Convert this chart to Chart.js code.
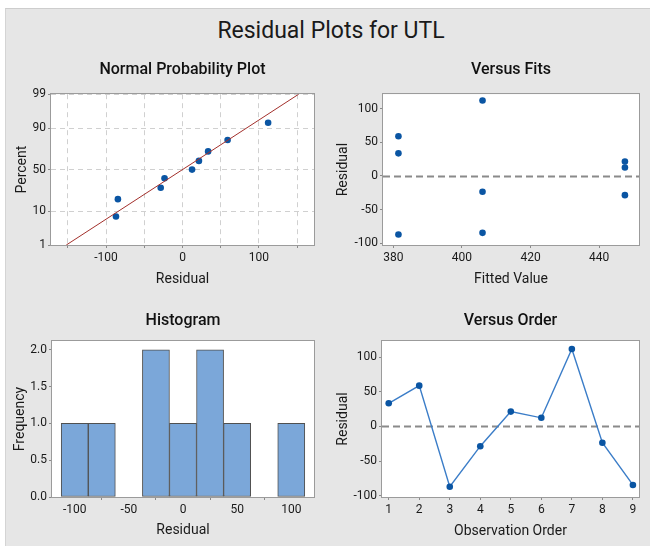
<!DOCTYPE html>
<html>
<head>
<meta charset="utf-8">
<title>Residual Plots for UTL</title>
<script src="https://cdn.jsdelivr.net/npm/chart.js@4.4.1/dist/chart.umd.min.js"></script>
<style>
  html, body { margin: 0; padding: 0; background: #fff; }
  body { width: 650px; height: 546px; position: relative; overflow: hidden;
         font-family: Roboto, 'Noto Sans', sans-serif; }
  #frame { position: absolute; left: 5px; top: 8px; right: 0; bottom: 0;
           background: #e6e6e6; border-top: 1px solid #cdcdcd; border-left: 1px solid #d4d4d4; }
  #mainTitle { position: absolute; left: 0; width: 662px; top: 18px; line-height: 26px;
               text-align: center; font-size: 23px; color: #1a1a1a; }
  .panel { position: absolute; }
</style>
</head>
<body>
<div id="frame"></div>
<div id="mainTitle">Residual Plots for UTL</div>
<div class="panel" style="left:0;top:60px;width:322px;height:230px"><canvas id="chartNpp"></canvas></div>
<div class="panel" style="left:325px;top:60px;width:322px;height:230px"><canvas id="chartFits"></canvas></div>
<div class="panel" style="left:0;top:311px;width:322px;height:231px"><canvas id="chartHist"></canvas></div>
<div class="panel" style="left:325px;top:311px;width:322px;height:231px"><canvas id="chartOrder"></canvas></div>

<script>
/* ─── Datos ─────────────────────────────────────── */
const OBS_ORDER  = [1, 2, 3, 4, 5, 6, 7, 8, 9];
const FITTED     = [381.5, 381.5, 381.5, 447.5, 447.5, 447.5, 406, 406, 406];
const RESIDUAL   = [33.5, 59, -87, -28.5, 21.5, 12.5, 112, -23.5, -84.5];
const NPP_PERCENT = [7.4, 18.1, 28.7, 39.4, 50, 60.6, 71.3, 81.9, 92.6];
const FIT_LINE_RESID   = [-152, 152];
const FIT_LINE_PERCENT = [1, 99];
const HIST_MID  = [-100, -75, -50, -25, 0, 25, 50, 75, 100];
const HIST_FREQ = [1, 1, 0, 2, 1, 2, 1, 0, 1];

/* ─── Ticks ─────────────────────────────────────── */
const NPP_X_TICKS  = [-150, -100, -50, 0, 50, 100, 150];
const NPP_X_LABELS = [-100, 0, 100];
const NPP_Y_TICKS  = [1, 10, 50, 90, 99];
const FIT_X_TICKS  = [380, 400, 420, 440];
const RESID_TICKS  = [-100, -50, 0, 50, 100];
const HIST_X_TICKS = [-100, -50, 0, 50, 100];
const HIST_Y_TICKS = [0, 0.5, 1, 1.5, 2];

const C = {
  point: '#0a55a3',
  fit: '#a3302c',
  line: '#3b7dc8',
  bar: '#7ba7d9',
  barEdge: '#505050',
  frame: '#9b9b9b',
  grid: '#d0d0d0',
  ref: '#8a8a8a',
  tick: '#8a8a8a',
};

Chart.defaults.font.family = "Roboto, 'Noto Sans', sans-serif";
Chart.defaults.font.size = 12;
Chart.defaults.color = '#1a1a1a';
Chart.defaults.animation = false;

/* normal inverse (Acklam) para la escala de probabilidad */
function probit(p) {
  const a = [-39.69683028665376, 220.9460984245205, -275.9285104469687, 138.3577518672690, -30.66479806614716, 2.506628277459239];
  const b = [-54.47609879822406, 161.5858368580409, -155.6989798598866, 66.80131188771972, -13.28068155288572];
  const c = [-0.007784894002430293, -0.3223964580411365, -2.400758277161838, -2.549732539343734, 4.374664141464968, 2.938163982698783];
  const d = [0.007784695709041462, 0.3224671290700398, 2.445134137142996, 3.754408661907416];
  const lo = 0.02425;
  let q, r;
  if (p < lo) {
    q = Math.sqrt(-2 * Math.log(p));
    return (((((c[0]*q+c[1])*q+c[2])*q+c[3])*q+c[4])*q+c[5]) / ((((d[0]*q+d[1])*q+d[2])*q+d[3])*q+1);
  }
  if (p > 1 - lo) {
    q = Math.sqrt(-2 * Math.log(1 - p));
    return -(((((c[0]*q+c[1])*q+c[2])*q+c[3])*q+c[4])*q+c[5]) / ((((d[0]*q+d[1])*q+d[2])*q+d[3])*q+1);
  }
  q = p - 0.5; r = q * q;
  return (((((a[0]*r+a[1])*r+a[2])*r+a[3])*r+a[4])*r+a[5])*q / (((((b[0]*r+b[1])*r+b[2])*r+b[3])*r+b[4])*r+1);
}
const z = pct => probit(pct / 100);

/* ─── Plugins ───────────────────────────────────── */
const plotFrame = {
  id: 'plotFrame',
  beforeDraw(chart) {
    const { ctx, chartArea: a } = chart;
    ctx.save();
    ctx.fillStyle = '#fff';
    ctx.fillRect(a.left, a.top, a.width, a.height);
    ctx.restore();
  },
  beforeDatasetsDraw(chart) {
    const { ctx, chartArea: a } = chart;
    ctx.save();
    ctx.strokeStyle = C.frame;
    ctx.lineWidth = 1;
    ctx.strokeRect(Math.round(a.left) - 0.5, Math.round(a.top) - 0.5,
                   Math.round(a.width) + 1, Math.round(a.height) + 1);
    ctx.restore();
  },
};
Chart.register(plotFrame);

const zeroLine = {
  id: 'zeroLine',
  beforeDatasetsDraw(chart) {
    const { ctx, chartArea: a, scales } = chart;
    const y = Math.round(scales.y.getPixelForValue(0)) + 0.5;
    ctx.save();
    ctx.strokeStyle = C.ref;
    ctx.lineWidth = 2;
    ctx.setLineDash([7, 4]);
    ctx.beginPath();
    ctx.moveTo(a.left, y);
    ctx.lineTo(a.right, y);
    ctx.stroke();
    ctx.restore();
  },
};

/* ─── Escalas reutilizables ─────────────────────── */
const axis = (o) => ({
  type: 'linear',
  min: o.min,
  max: o.max,
  offset: false,
  afterBuildTicks: ax => { ax.ticks = o.ticks.map(v => ({ value: v })); },
  afterFit: s => { if (o.width) s.width = o.width; if (o.height) s.height = o.height; },
  ticks: {
    padding: o.width ? 2 : 3,
    autoSkip: false,
    maxRotation: 0,
    callback: o.fmt || (v => v),
  },
  grid: {
    drawOnChartArea: !!o.grid,
    color: C.grid,
    tickLength: 3,
    tickColor: C.tick,
  },
  border: { display: false, dash: o.grid ? [5, 4] : [] },
  title: {
    display: true,
    text: o.title,
    font: { size: 14 },
    padding: o.width ? { top: o.titlePad, bottom: 0 } : { top: 0, bottom: o.titlePad },
  },
});

const baseOptions = (title, titleGap, scales) => ({
  responsive: true,
  maintainAspectRatio: false,
  devicePixelRatio: 1,
  layout: { padding: { left: 0, right: 8, top: 0, bottom: 0 } },
  plugins: {
    legend: { display: false },
    tooltip: { enabled: false },
    title: {
      display: true,
      fullSize: false,
      text: title,
      font: { size: 16, weight: '500' },
      color: '#111',
      padding: { top: 0, bottom: titleGap },
    },
  },
  scales,
});

const pointStyle = {
  pointRadius: 3.3,
  pointBackgroundColor: C.point,
  pointBorderColor: C.point,
  pointBorderWidth: 0,
};

/* ═══ 1 · Normal Probability Plot ═══ */
const nppResid = [...RESIDUAL].sort((p, q) => p - q);
new Chart(document.getElementById('chartNpp'), {
  type: 'scatter',
  data: {
    datasets: [
      {
        type: 'line',
        data: FIT_LINE_RESID.map((x, i) => ({ x, y: z(FIT_LINE_PERCENT[i]) })),
        borderColor: C.fit,
        borderWidth: 1,
        pointRadius: 0,
      },
      {
        data: nppResid.map((x, i) => ({ x, y: z(NPP_PERCENT[i]) })),
        ...pointStyle,
      },
    ],
  },
  options: baseOptions('Normal Probability Plot', 15, {
    x: axis({ min: -172, max: 172, ticks: NPP_X_TICKS, height: 45, grid: true,
              fmt: v => NPP_X_LABELS.includes(v) ? v : '',
              title: 'Residual', titlePad: 2.3 }),
    y: axis({ min: z(1), max: z(99), ticks: NPP_Y_TICKS.map(z), width: 51, grid: true,
              fmt: (v, i) => NPP_Y_TICKS[i],
              title: 'Percent', titlePad: 14 }),
  }),
});

/* ═══ 2 · Versus Fits ═══ */
new Chart(document.getElementById('chartFits'), {
  type: 'scatter',
  data: {
    datasets: [{
      data: FITTED.map((x, i) => ({ x, y: RESIDUAL[i] })),
      ...pointStyle,
    }],
  },
  options: baseOptions('Versus Fits', 15, {
    x: axis({ min: 377, max: 451.6, ticks: FIT_X_TICKS, height: 45,
              title: 'Fitted Value', titlePad: 2.6 }),
    y: axis({ min: -102.5, max: 121.3, ticks: RESID_TICKS, width: 58,
              title: 'Residual', titlePad: 9.6 }),
  }),
  plugins: [zeroLine],
});

/* ═══ 3 · Histogram ═══ */
new Chart(document.getElementById('chartHist'), {
  type: 'bar',
  data: {
    datasets: [{
      data: HIST_MID.map((x, i) => ({ x, y: HIST_FREQ[i] })),
      backgroundColor: C.bar,
      borderColor: C.barEdge,
      borderWidth: 1,
      borderSkipped: false,
      barPercentage: 1,
      categoryPercentage: 1,
    }],
  },
  options: baseOptions('Histogram', 10.8, {
    x: axis({ min: -121, max: 121, ticks: HIST_X_TICKS, height: 45,
              title: 'Residual', titlePad: 3.6 }),
    y: axis({ min: 0, max: 2.12, ticks: HIST_Y_TICKS, width: 52,
              fmt: v => v.toFixed(1),
              title: 'Frequency', titlePad: 11.6 }),
  }),
});

/* ═══ 4 · Versus Order ═══ */
new Chart(document.getElementById('chartOrder'), {
  type: 'line',
  data: {
    datasets: [{
      data: OBS_ORDER.map((x, i) => ({ x, y: RESIDUAL[i] })),
      borderColor: C.line,
      borderWidth: 1.4,
      tension: 0,
      ...pointStyle,
    }],
  },
  options: baseOptions('Versus Order', 10.8, {
    x: axis({ min: 0.78, max: 9.2, ticks: OBS_ORDER, height: 45,
              title: 'Observation Order', titlePad: 1.9 }),
    y: axis({ min: -101.9, max: 123.5, ticks: RESID_TICKS, width: 57,
              title: 'Residual', titlePad: 9.6 }),
  }),
  plugins: [zeroLine],
});
</script>
</body>
</html>
